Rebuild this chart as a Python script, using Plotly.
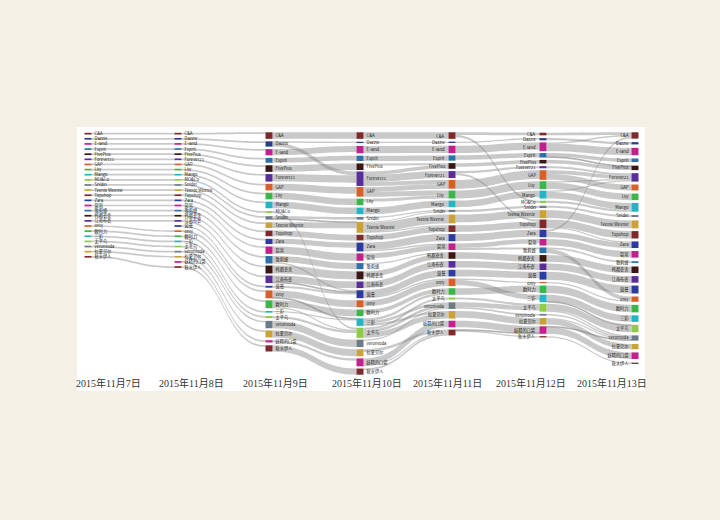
import plotly.graph_objects as go

# ---------------- data ----------------
BRANDS = ["C&A", "Dazzle", "E-land", "Esprit", "FivePlus", "Forever21", "GAP", "Lily",
          "Mango", "MO&Co", "Snidel", "Teenie Weenie", "Topshop", "Zara", "裂帛", "歌莉娅",
          "韩都衣舍", "江南布衣", "茵曼", "only", "欧时力", "三彩", "太平鸟", "veromoda",
          "拉夏贝尔", "妖精的口袋", "秋水伊人"]

DAYS = ["2015年11月7日", "2015年11月8日", "2015年11月9日", "2015年11月10日",
        "2015年11月11日", "2015年11月12日", "2015年11月13日"]

ABSENT = {0: ["茵曼", "妖精的口袋"], 3: ["MO&Co"], 4: ["MO&Co", "歌莉娅", "三彩"], 6: ["MO&Co"]}

FLOW_7_8 = [("C&A", "C&A", 1.3), ("Dazzle", "Dazzle", 1.3), ("E-land", "E-land", 1.3),
            ("Esprit", "Esprit", 1.3), ("FivePlus", "FivePlus", 1.3), ("Forever21", "Forever21", 1.3),
            ("GAP", "GAP", 1.3), ("Lily", "Lily", 1.3), ("Mango", "Mango", 1.3), ("MO&Co", "MO&Co", 1.3),
            ("Snidel", "Snidel", 1.3), ("Teenie Weenie", "Teenie Weenie", 1.3), ("Topshop", "Topshop", 1.3),
            ("Zara", "Zara", 1.3), ("裂帛", "裂帛", 1.3), ("歌莉娅", "歌莉娅", 1.3), ("韩都衣舍", "韩都衣舍", 1.3),
            ("江南布衣", "江南布衣", 1.3), ("only", "only", 1.3), ("欧时力", "欧时力", 1.3), ("三彩", "三彩", 1.3),
            ("太平鸟", "太平鸟", 1.3), ("veromoda", "veromoda", 1.3), ("拉夏贝尔", "拉夏贝尔", 1.3),
            ("秋水伊人", "秋水伊人", 1.3)]

FLOW_8_9 = [("C&A", "C&A", 1.3), ("Dazzle", "Dazzle", 1.3), ("E-land", "E-land", 1.3),
            ("Esprit", "Esprit", 1.3), ("FivePlus", "FivePlus", 1.3), ("Forever21", "Forever21", 1.3),
            ("GAP", "GAP", 1.3), ("Lily", "Lily", 1.3), ("Mango", "Mango", 1.3), ("MO&Co", "MO&Co", 1.3),
            ("Snidel", "Snidel", 1.3), ("Teenie Weenie", "Teenie Weenie", 1.3), ("Topshop", "Topshop", 1.3),
            ("Zara", "Zara", 1.3), ("裂帛", "裂帛", 1.3), ("歌莉娅", "歌莉娅", 1.3), ("韩都衣舍", "韩都衣舍", 1.3),
            ("江南布衣", "江南布衣", 1.3), ("茵曼", "茵曼", 1.3), ("only", "only", 1.3), ("欧时力", "欧时力", 1.3),
            ("三彩", "三彩", 1.3), ("太平鸟", "太平鸟", 1.3), ("veromoda", "veromoda", 1.3),
            ("拉夏贝尔", "拉夏贝尔", 1.3), ("妖精的口袋", "妖精的口袋", 1.3), ("秋水伊人", "秋水伊人", 1.3)]

FLOW_9_10 = [("C&A", "C&A", 5.0), ("Dazzle", "Dazzle", 1.0), ("Dazzle", "Forever21", 3.0),
             ("E-land", "E-land", 4.7), ("Esprit", "Esprit", 3.7), ("FivePlus", "FivePlus", 5.0),
             ("Forever21", "Forever21", 5.7), ("GAP", "GAP", 5.0), ("Lily", "Lily", 5.0),
             ("Mango", "Mango", 5.0), ("MO&Co", "太平鸟", 1.4), ("Snidel", "Snidel", 2.0),
             ("Snidel", "Teenie Weenie", 0.6), ("Teenie Weenie", "Teenie Weenie", 4.3),
             ("Topshop", "Topshop", 4.3), ("Zara", "Zara", 4.0), ("裂帛", "裂帛", 5.6),
             ("歌莉娅", "歌莉娅", 4.6), ("歌莉娅", "茵曼", 1.1), ("韩都衣舍", "韩都衣舍", 6.0),
             ("江南布衣", "江南布衣", 5.0), ("江南布衣", "茵曼", 0.7), ("茵曼", "茵曼", 1.4),
             ("only", "only", 5.3), ("only", "三彩", 0.7), ("欧时力", "欧时力", 5.0),
             ("欧时力", "太平鸟", 1.0), ("三彩", "三彩", 1.0), ("太平鸟", "太平鸟", 1.6),
             ("veromoda", "veromoda", 5.6), ("拉夏贝尔", "拉夏贝尔", 5.3),
             ("妖精的口袋", "妖精的口袋", 1.7), ("秋水伊人", "秋水伊人", 4.7)]

FLOW_10_11 = [("C&A", "C&A", 5.0), ("Dazzle", "Dazzle", 1.0), ("E-land", "E-land", 5.6),
              ("Esprit", "Esprit", 4.0), ("FivePlus", "FivePlus", 1.6), ("Forever21", "FivePlus", 2.7),
              ("Forever21", "Forever21", 5.3), ("Forever21", "GAP", 3.0), ("GAP", "GAP", 3.6),
              ("GAP", "Lily", 3.7), ("Lily", "Lily", 2.3), ("Mango", "Mango", 5.0),
              ("Snidel", "Snidel", 0.9), ("Teenie Weenie", "Snidel", 0.8),
              ("Teenie Weenie", "Teenie Weenie", 6.7), ("Teenie Weenie", "Topshop", 0.8),
              ("Topshop", "Topshop", 4.2), ("Zara", "Zara", 5.4), ("Zara", "裂帛", 1.3),
              ("裂帛", "裂帛", 3.7), ("歌莉娅", "韩都衣舍", 1.0), ("韩都衣舍", "韩都衣舍", 4.0),
              ("江南布衣", "江南布衣", 5.0), ("茵曼", "茵曼", 5.0), ("茵曼", "only", 1.0),
              ("only", "only", 4.7), ("欧时力", "欧时力", 3.0), ("三彩", "欧时力", 2.0),
              ("三彩", "veromoda", 2.0), ("三彩", "拉夏贝尔", 1.7), ("太平鸟", "太平鸟", 1.6),
              ("太平鸟", "veromoda", 2.1), ("太平鸟", "拉夏贝尔", 4.0), ("veromoda", "veromoda", 0.9),
              ("拉夏贝尔", "秋水伊人", 2.0), ("妖精的口袋", "妖精的口袋", 5.0),
              ("妖精的口袋", "秋水伊人", 1.0), ("秋水伊人", "秋水伊人", 1.4)]

FLOW_11_12 = [("C&A", "C&A", 2.0), ("C&A", "MO&Co", 1.7), ("Dazzle", "Dazzle", 1.0),
              ("E-land", "E-land", 5.6), ("Esprit", "Esprit", 3.4), ("FivePlus", "FivePlus", 2.7),
              ("Forever21", "Forever21", 1.6), ("Forever21", "Topshop", 1.6), ("GAP", "GAP", 6.6),
              ("Lily", "Lily", 6.0), ("Mango", "Mango", 5.0), ("Snidel", "Snidel", 1.7),
              ("Teenie Weenie", "Teenie Weenie", 6.0), ("Topshop", "Topshop", 5.0), ("Zara", "Zara", 5.4),
              ("裂帛", "裂帛", 3.5), ("裂帛", "歌莉娅", 1.5), ("韩都衣舍", "韩都衣舍", 5.0),
              ("江南布衣", "江南布衣", 5.0), ("茵曼", "茵曼", 5.0), ("only", "only", 1.0),
              ("only", "三彩", 4.0), ("欧时力", "欧时力", 5.0), ("太平鸟", "太平鸟", 1.6),
              ("veromoda", "veromoda", 1.3), ("veromoda", "太平鸟", 3.5), ("拉夏贝尔", "拉夏贝尔", 5.0),
              ("妖精的口袋", "妖精的口袋", 5.0), ("秋水伊人", "秋水伊人", 1.0),
              ("秋水伊人", "妖精的口袋", 0.7)]

FLOW_12_13 = [("C&A", "C&A", 2.0), ("Dazzle", "Dazzle", 1.7), ("E-land", "C&A", 1.1),
              ("E-land", "E-land", 5.6), ("Esprit", "Esprit", 2.7), ("Esprit", "FivePlus", 0.7),
              ("FivePlus", "FivePlus", 2.7), ("Forever21", "Forever21", 1.6), ("GAP", "Forever21", 2.8),
              ("GAP", "GAP", 4.5), ("Lily", "Forever21", 1.0), ("Lily", "Lily", 5.0),
              ("Mango", "Forever21", 1.0), ("Mango", "Mango", 5.0), ("MO&Co", "Mango", 1.7),
              ("Snidel", "Snidel", 1.5), ("Teenie Weenie", "Teenie Weenie", 6.0),
              ("Topshop", "Topshop", 5.6), ("Topshop", "Zara", 1.0), ("Zara", "C&A", 1.7),
              ("Zara", "Zara", 4.0), ("裂帛", "裂帛", 5.0), ("歌莉娅", "歌莉娅", 1.3),
              ("歌莉娅", "only", 3.0), ("韩都衣舍", "韩都衣舍", 5.0), ("江南布衣", "江南布衣", 5.0),
              ("茵曼", "茵曼", 6.0), ("only", "only", 1.0), ("欧时力", "欧时力", 5.7),
              ("三彩", "三彩", 5.0), ("三彩", "太平鸟", 0.7), ("太平鸟", "太平鸟", 5.0),
              ("太平鸟", "veromoda", 1.0), ("veromoda", "veromoda", 1.3), ("拉夏贝尔", "拉夏贝尔", 4.0),
              ("拉夏贝尔", "veromoda", 1.0), ("妖精的口袋", "妖精的口袋", 5.0),
              ("妖精的口袋", "veromoda", 0.7), ("秋水伊人", "秋水伊人", 1.0)]

FLOWS = [FLOW_7_8, FLOW_8_9, FLOW_9_10, FLOW_10_11, FLOW_11_12, FLOW_12_13]

# ---------------- style ----------------
W, H = 720, 520
BRAND_COLORS = {
    "C&A": "#7d2a2c", "Dazzle": "#2d3a8a", "E-land": "#c2208c", "Esprit": "#2f70aa",
    "FivePlus": "#3a1715", "Forever21": "#5b2d98", "GAP": "#d5602a", "Lily": "#3cb54b",
    "Mango": "#24b4c4", "MO&Co": "#8fcb4a", "Snidel": "#6c7a8a", "Teenie Weenie": "#c9a23a",
    "Topshop": "#7d2a2c", "Zara": "#2d3a9e", "裂帛": "#c2208c", "歌莉娅": "#2f70aa",
    "韩都衣舍": "#3a1715", "江南布衣": "#5b2d98", "茵曼": "#2d3a9e", "only": "#d5602a",
    "欧时力": "#3cb54b", "三彩": "#24b4c4", "太平鸟": "#8fcb4a", "veromoda": "#6c7a8a",
    "拉夏贝尔": "#c9a23a", "妖精的口袋": "#c2208c", "秋水伊人": "#7d2a2c"}
COL_X_PX = [88, 178, 269, 360, 452, 543, 635]
COL_TOP_PX = 133
COL_GAP_PX = [3.8, 3.8, 3.8, 3.8, 3.7, 3.3, 4.5]
LEFT_LABEL_COLS = [4, 5]          # label drawn left of the node (last column is done by plotly)
DATE_X_PX = [109, 191, 275, 367, 447, 531, 612]
DATE_Y_PX = 383
NODE_PAD = 15
THICK = 7
LABEL_FONT = dict(family="Noto Sans CJK SC", size=4.2, color="#1a1a1a")

# ---------------- build nodes / links ----------------
node_idx, labels, colors, node_day, node_brand = {}, [], [], [], []
for d in range(len(DAYS)):
    for b in BRANDS:
        if b in ABSENT.get(d, []):
            continue
        node_idx[(d, b)] = len(labels)
        labels.append("" if d in LEFT_LABEL_COLS else b)
        node_brand.append(b)
        colors.append(BRAND_COLORS[b])
        node_day.append(d)

src, tgt, val = [], [], []
for d, flow in enumerate(FLOWS):
    for a, b, v in flow:
        src.append(node_idx[(d, a)])
        tgt.append(node_idx[(d + 1, b)])
        val.append(v)

n = len(labels)
vin = [0.0] * n
vout = [0.0] * n
outs = [[] for _ in range(n)]
for s, t, v in zip(src, tgt, val):
    vout[s] += v
    vin[t] += v
    outs[s].append(t)
nval = [max(a, b) for a, b in zip(vin, vout)]

# replicate d3-sankey layering to know the scale (px per unit)
depth = [0] * n
cur, x = set(range(n)), 0
while cur:
    nxt = set()
    for i in cur:
        depth[i] = x
        nxt.update(outs[i])
    cur, x = nxt, x + 1
layers = {}
for i in range(n):
    li = depth[i] if outs[i] else x - 1
    layers.setdefault(li, []).append(i)
ky = min((H - (len(c) - 1) * NODE_PAD) / sum(nval[i] for i in c) for c in layers.values())

# stack nodes from the top of each column
node_x, node_y = [0.0] * n, [0.0] * n
for d in range(len(DAYS)):
    y = COL_TOP_PX
    for b in BRANDS:
        if (d, b) not in node_idx:
            continue
        i = node_idx[(d, b)]
        h = nval[i] * ky
        node_x[i] = COL_X_PX[d] / W
        node_y[i] = (y + h / 2) / H
        y += h + COL_GAP_PX[d]

textfont = dict(LABEL_FONT)
sankey_kw = dict(
    arrangement="fixed",
    domain=dict(x=[0, 1], y=[0, 1]),
    node=dict(label=labels, color=colors, x=node_x, y=node_y, pad=NODE_PAD,
              thickness=THICK, line=dict(width=0)),
    link=dict(source=src, target=tgt, value=val, color="rgba(135,135,135,0.45)"),
    hoverinfo="none",
)
try:
    trace = go.Sankey(textfont=dict(textfont, shadow="none"), **sankey_kw)
except Exception:
    trace = go.Sankey(textfont=textfont, **sankey_kw)
fig = go.Figure(trace)

fig.add_shape(type="rect", xref="paper", yref="paper", layer="below",
              x0=77 / W, x1=645 / W, y0=1 - 391 / H, y1=1 - 127 / H,
              fillcolor="white", line=dict(width=0))

# labels on the left side of the nodes for the 11th and 12th columns
for i in range(n):
    if node_day[i] in LEFT_LABEL_COLS:
        fig.add_annotation(text=node_brand[i], x=node_x[i] - (THICK / 2 + 3) / W, y=1 - node_y[i],
                           xref="paper", yref="paper", xanchor="right", yanchor="middle",
                           showarrow=False, font=LABEL_FONT, borderpad=0)

for lab, xp in zip(DAYS, DATE_X_PX):
    fig.add_annotation(text=lab, x=xp / W, y=1 - DATE_Y_PX / H, xref="paper", yref="paper",
                       xanchor="center", yanchor="middle", showarrow=False,
                       font=dict(family="Liberation Serif, Noto Sans CJK SC", size=10, color="#333"))

fig.update_layout(width=W, height=H, margin=dict(l=0, r=0, t=0, b=0),
                  paper_bgcolor="#f5f0e6", plot_bgcolor="#f5f0e6", showlegend=False)
fig.write_html("out.html")
